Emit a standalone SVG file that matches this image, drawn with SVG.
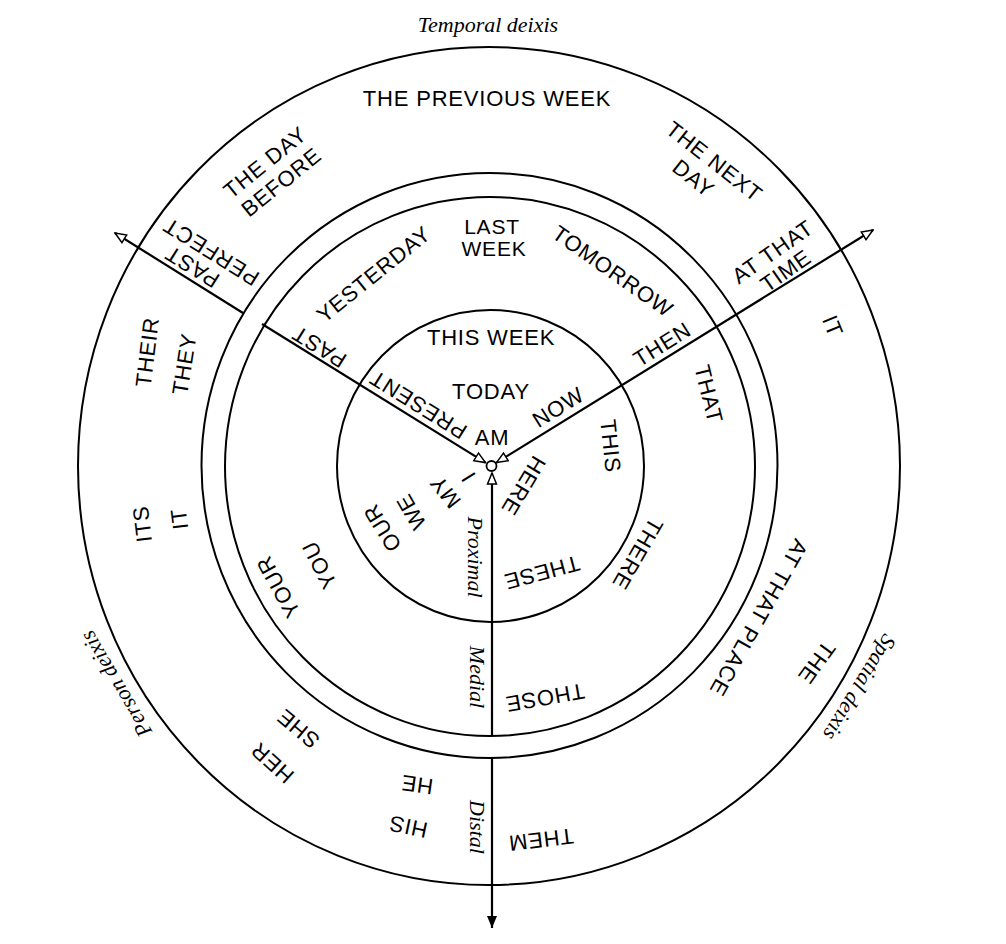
<svg xmlns="http://www.w3.org/2000/svg" width="1006" height="944" viewBox="0 0 1006 944">
<style>
.ring{fill:none;stroke:#000;stroke-width:2}
.ax{fill:none;stroke:#000;stroke-width:2.2}
.c{font-family:"Liberation Sans",Arial,sans-serif;font-size:22px;letter-spacing:0.8px;text-anchor:middle;fill:#000}
.s{font-size:21px}
.i{font-family:"Liberation Serif","Times New Roman",serif;font-style:italic;font-size:22px;text-anchor:middle;fill:#000}
</style>
<defs>
<marker id="hOpen" viewBox="-12 -6 13 12" refX="0" refY="0" markerWidth="13" markerHeight="12" markerUnits="userSpaceOnUse" orient="auto-start-reverse">
<path d="M0,0 L-11,-4.5 L-11,4.5 Z" fill="#fff" stroke="#000" stroke-width="1.5"/>
</marker>
<marker id="hFill" viewBox="-13 -6 14 12" refX="0" refY="0" markerWidth="14" markerHeight="12" markerUnits="userSpaceOnUse" orient="auto">
<path d="M0,0 L-12,-5 L-12,5 Z" fill="#000"/>
</marker>
</defs>
<rect width="1006" height="944" fill="#fff"/>
<g id="rings">
<ellipse class="ring" cx="489" cy="466" rx="411" ry="419"/>
<ellipse class="ring" cx="489.5" cy="465.5" rx="288" ry="292.5"/>
<ellipse class="ring" cx="490" cy="466.5" rx="265" ry="269.5"/>
<ellipse class="ring" cx="490.5" cy="466" rx="153.5" ry="156"/>
</g>
<g id="connectors">
<path class="ax" d="M243,313 L115,233" marker-end="url(#hOpen)"/>
<path class="ax" d="M262,324 L485.5,462.6" marker-end="url(#hOpen)"/>
<path class="ax" d="M496.5,462.6 L873,230" marker-start="url(#hOpen)" marker-end="url(#hOpen)"/>
<path class="ax" d="M492,736 L492,473" marker-end="url(#hOpen)"/>
<path class="ax" d="M492,758 L492,928" marker-end="url(#hFill)"/>
<circle cx="491.5" cy="466" r="5" fill="#fff" stroke="#000" stroke-width="1.8"/>
</g>
<g id="temporal">
<text class="i" x="488" y="32">Temporal deixis</text>
<text class="c" x="487" y="106">THE PREVIOUS WEEK</text>
<g transform="translate(273 172) rotate(-39)"><text class="c" y="-12.8" dy="0.36em">THE DAY</text><text class="c" y="12.8" dy="0.36em">BEFORE</text></g>
<g transform="translate(706.5 171.5) rotate(38)"><text class="c" y="-13" dy="0.36em">THE NEXT</text><text class="c" x="-6" y="13" dy="0.36em">DAY</text></g>
<g transform="translate(779 261) rotate(-35)"><text class="c" y="-11.5" dy="0.36em">AT THAT</text><text class="c" y="11.5" dy="0.36em">TIME</text></g>
<text class="c s" x="492" y="226.5" dy="0.36em">LAST</text>
<text class="c s" x="494" y="248" dy="0.36em">WEEK</text>
<text class="c" transform="translate(373.5 274) rotate(-39)" dy="0.36em">YESTERDAY</text>
<text class="c" transform="translate(613 271) rotate(35)" dy="0.36em">TOMORROW</text>
<text class="c" x="491" y="337" dy="0.36em">THIS WEEK</text>
<text class="c" x="491" y="391" dy="0.36em">TODAY</text>
<text class="c" x="492" y="437" dy="0.36em">AM</text>
<text class="c" transform="translate(192 267) rotate(-148)" dy="0.36em">PAST</text>
<text class="c" transform="translate(211 252) rotate(-148)" dy="0.36em">PERFECT</text>
<text class="c" transform="translate(319 347) rotate(-148)" dy="0.36em">PAST</text>
<text class="c" transform="translate(418 405) rotate(-148)" dy="0.36em">PRESENT</text>
<text class="c" transform="translate(558 407) rotate(-32)" dy="0.36em">NOW</text>
<text class="c" transform="translate(662 344) rotate(-32)" dy="0.36em">THEN</text>
</g>
<g id="person">
<text class="i" transform="translate(116.5 683.5) rotate(-120.5)" dy="0.3em">Person deixis</text>
<text class="c" transform="translate(147 352) rotate(-83)" dy="0.36em">THEIR</text>
<text class="c" transform="translate(184 364) rotate(-81)" dy="0.36em">THEY</text>
<text class="c" transform="translate(142 524) rotate(-97)" dy="0.36em">ITS</text>
<text class="c" transform="translate(179 519) rotate(-97)" dy="0.36em">IT</text>
<text class="c" transform="translate(278 587) rotate(-119)" dy="0.36em">YOUR</text>
<text class="c" transform="translate(319 565) rotate(-117)" dy="0.36em">YOU</text>
<text class="c" transform="translate(382 528) rotate(-122)" dy="0.36em">OUR</text>
<text class="c" transform="translate(411 512) rotate(-120)" dy="0.36em">WE</text>
<text class="c" transform="translate(445 492) rotate(-128)" dy="0.36em">MY</text>
<text class="c" transform="translate(468 477) rotate(-122)" dy="0.36em">I</text>
<text class="c" transform="translate(298 729) rotate(-140)" dy="0.36em">SHE</text>
<text class="c" transform="translate(272 763) rotate(-138)" dy="0.36em">HER</text>
<text class="c" transform="translate(417 785) rotate(-172)" dy="0.36em">HE</text>
<text class="c" transform="translate(408 827) rotate(-168)" dy="0.36em">HIS</text>
</g>
<g id="distance">
<text class="i" transform="translate(475 557) rotate(90)" dy="0.3em">Proximal</text>
<text class="i" transform="translate(477 677) rotate(90)" dy="0.3em">Medial</text>
<text class="i" transform="translate(477 827) rotate(90)" dy="0.3em">Distal</text>
</g>
<g id="spatial">
<text class="i" transform="translate(859 687) rotate(121.5)" dy="0.3em">Spatial deixis</text>
<text class="c" transform="translate(611 446) rotate(84)" dy="0.36em">THIS</text>
<text class="c" transform="translate(709 394) rotate(76)" dy="0.36em">THAT</text>
<text class="c" transform="translate(833 326) rotate(68)" dy="0.36em">IT</text>
<text class="c" transform="translate(524 486) rotate(121)" dy="0.36em">HERE</text>
<text class="c" transform="translate(638 554) rotate(120)" dy="0.36em">THERE</text>
<text class="c" transform="translate(542 573) rotate(165)" dy="0.36em">THESE</text>
<text class="c" transform="translate(545 698) rotate(170)" dy="0.36em">THOSE</text>
<text class="c" transform="translate(541 840) rotate(173)" dy="0.36em">THEM</text>
<text class="c" transform="translate(817 663) rotate(126)" dy="0.36em">THE</text>
<text class="c" transform="translate(759 618) rotate(119.5)" dy="0.36em">AT THAT PLACE</text>
</g>
</svg>
